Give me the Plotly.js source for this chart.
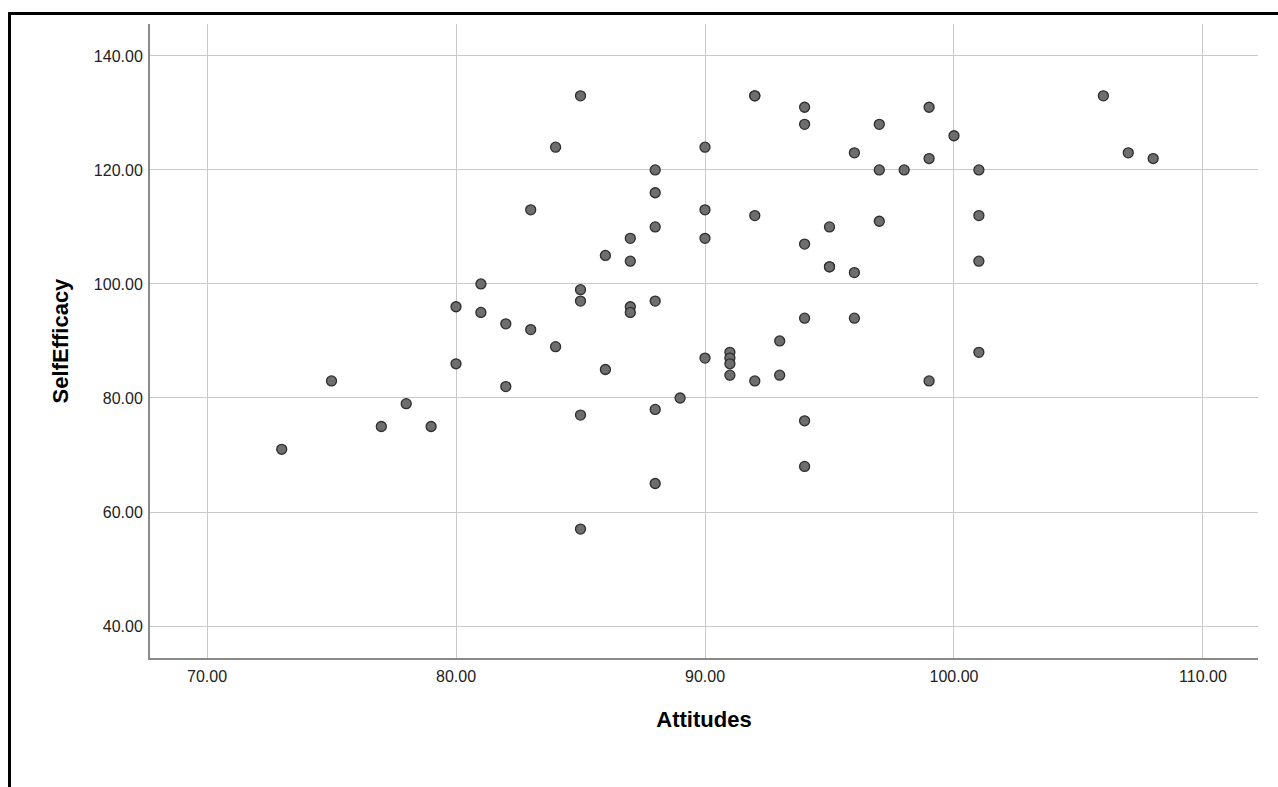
<!DOCTYPE html>
<html>
<head>
<meta charset="utf-8">
<script src="https://cdn.plot.ly/plotly-3.0.1.min.js"></script>
<style>
  html, body { margin: 0; padding: 0; background: #ffffff; }
  #wrap { position: relative; width: 1278px; height: 787px; }
  #chart { width: 1278px; height: 787px; }
  #frame { position: absolute; left: 8px; top: 12px; right: 0; bottom: 0;
           border-top: 3px solid #000; border-left: 3px solid #000; pointer-events: none; }
</style>
</head>
<body>
<div id="wrap">
  <div id="chart"></div>
  <div id="frame"></div>
</div>
<script>
const attitudes = [73, 75, 77, 78, 79, 80, 80, 81, 81, 82, 82, 83, 83, 84, 84,
  85, 85, 85, 85, 85, 86, 86, 87, 87, 87, 87, 88, 88, 88, 88, 88, 88, 89,
  90, 90, 90, 90, 91, 91, 91, 91, 92, 92, 92, 92, 93, 93, 94, 94, 94, 94, 94, 94,
  95, 95, 95, 96, 96, 96, 97, 97, 97, 98, 99, 99, 99, 100, 101, 101, 101, 101,
  106, 107, 108];
const selfEfficacy = [71, 83, 75, 79, 75, 96, 86, 100, 95, 93, 82, 113, 92, 124, 89,
  133, 99, 97, 77, 57, 105, 85, 108, 104, 96, 95, 120, 116, 110, 97, 78, 65, 80,
  124, 113, 108, 87, 88, 87, 86, 84, 133, 133, 112, 83, 90, 84, 131, 128, 107, 94, 76, 68,
  110, 103, 103, 123, 102, 94, 128, 120, 111, 120, 131, 122, 83, 126, 120, 112, 104, 88,
  133, 123, 122];
const xTickVals = [70, 80, 90, 100, 110];
const xTickText = ["70.00", "80.00", "90.00", "100.00", "110.00"];
const yTickVals = [40, 60, 80, 100, 120, 140];
const yTickText = ["40.00", "60.00", "80.00", "100.00", "120.00", "140.00"];

const trace = {
  type: "scatter",
  mode: "markers",
  x: attitudes,
  y: selfEfficacy,
  marker: { size: 10, color: "#6e6e6e", line: { color: "#2e2e2e", width: 1.3 } },
  hoverinfo: "x+y",
  showlegend: false
};

const layout = {
  width: 1278,
  height: 787,
  margin: { l: 150, r: 20, t: 24, b: 129 },
  paper_bgcolor: "#ffffff",
  plot_bgcolor: "#ffffff",
  font: { family: "Arial, 'Liberation Sans', sans-serif", color: "#222222", size: 16 },
  xaxis: {
    range: [67.71, 112.21],
    tickvals: xTickVals,
    ticktext: xTickText,
    ticks: "",
    ticklabelstandoff: 3,
    showgrid: true,
    gridcolor: "#c9c9c9",
    gridwidth: 1.3,
    zeroline: false,
    showline: true,
    linecolor: "#8a8a8a",
    linewidth: 2,
    tickfont: { size: 16, color: "#222222" },
    title: { text: "Attitudes", font: { size: 22, color: "#000000", family: "Arial, 'Liberation Sans', sans-serif", weight: "bold" }, standoff: 27 },
    automargin: false
  },
  yaxis: {
    range: [34.39, 145.6],
    tickvals: yTickVals,
    ticktext: yTickText,
    ticks: "",
    ticklabelstandoff: 2,
    showgrid: true,
    gridcolor: "#c9c9c9",
    gridwidth: 1.3,
    zeroline: false,
    showline: true,
    linecolor: "#8a8a8a",
    linewidth: 2,
    tickfont: { size: 16, color: "#222222" },
    title: { text: "SelfEfficacy", font: { size: 22, color: "#000000", family: "Arial, 'Liberation Sans', sans-serif", weight: "bold" }, standoff: 19 },
    automargin: false
  }
};

Plotly.newPlot("chart", [trace], layout, { displayModeBar: false, staticPlot: false });
</script>
</body>
</html>
